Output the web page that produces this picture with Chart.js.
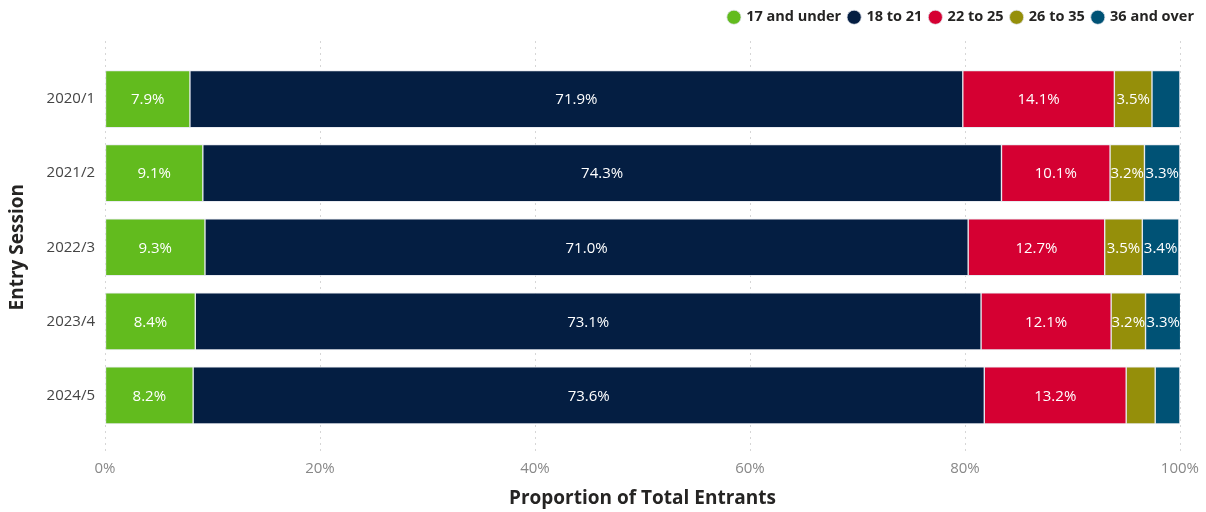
<!DOCTYPE html>
<html>
<head>
<meta charset="utf-8">
<script src="https://cdn.jsdelivr.net/npm/chart.js@4"></script>
<style>
  html, body { margin: 0; padding: 0; background: #fff; }
  #wrap { width: 1206px; height: 512px; }
</style>
</head>
<body>
<div id="wrap"><canvas id="myChart"></canvas></div>
<script>
const sessions = ["2020/1", "2021/2", "2022/3", "2023/4", "2024/5"];
const ageGroups = ["17 and under", "18 to 21", "22 to 25", "26 to 35", "36 and over"];
const under17 = [7.9, 9.1, 9.3, 8.4, 8.2];
const age18to21 = [71.9, 74.3, 71.0, 73.1, 73.6];
const age22to25 = [14.1, 10.1, 12.7, 12.1, 13.2];
const age26to35 = [3.5, 3.2, 3.5, 3.2, 2.7];
const over36 = [2.6, 3.3, 3.4, 3.3, 2.3];
const xTicks = [0, 20, 40, 60, 80, 100];

const colours = ["#62bb1e", "#041e42", "#d50032", "#958f0a", "#005275"];
const seriesValues = [under17, age18to21, age22to25, age26to35, over36];
const fontFamily = "'Segoe UI', 'Open Sans', 'Noto Sans', sans-serif";

// push the plot down below the legend
const legendGap = {
  id: "legendGap",
  beforeInit(chart) {
    const fit = chart.legend.fit;
    chart.legend.fit = function () {
      fit.bind(chart.legend)();
      this.height += 27.5;
    };
  },
};

// dotted vertical grid lines, a bit taller than the plot area
const dottedGrid = {
  id: "dottedGrid",
  beforeDatasetsDraw(chart) {
    const ctx = chart.ctx;
    const xScale = chart.scales.x;
    const area = chart.chartArea;
    ctx.save();
    ctx.strokeStyle = "#d6d6d6";
    ctx.lineWidth = 1;
    ctx.setLineDash([2, 4]);
    xTicks.forEach((t) => {
      const x = Math.round(xScale.getPixelForValue(t)) + 0.5;
      ctx.beginPath();
      ctx.moveTo(x, area.top - 21);
      ctx.lineTo(x, area.bottom + 20);
      ctx.stroke();
    });
    ctx.restore();
  },
};

// value labels in the middle of each segment, skipped when too narrow
const segmentLabels = {
  id: "segmentLabels",
  afterDatasetsDraw(chart) {
    const ctx = chart.ctx;
    ctx.save();
    ctx.font = "15px " + fontFamily;
    ctx.fillStyle = "#ffffff";
    ctx.textAlign = "center";
    ctx.textBaseline = "middle";
    chart.data.datasets.forEach((ds, i) => {
      chart.getDatasetMeta(i).data.forEach((bar, j) => {
        const v = ds.data[j];
        if (v < 3) return;
        const cx = (bar.x + bar.base) / 2;
        ctx.fillText(v.toFixed(1) + "%", cx, bar.y + 1);
      });
    });
    ctx.restore();
  },
};

const datasets = ageGroups.map((name, i) => ({
  label: name,
  data: seriesValues[i],
  backgroundColor: colours[i],
  borderColor: "rgba(225, 228, 236, 0.75)",
  borderWidth: 1,
  borderSkipped: false,
  barThickness: 57,
}));

new Chart(document.getElementById("myChart"), {
  type: "bar",
  data: { labels: sessions, datasets: datasets },
  plugins: [legendGap, dottedGrid, segmentLabels],
  options: {
    indexAxis: "y",
    responsive: true,
    maintainAspectRatio: false,
    animation: false,
    layout: { padding: { top: 2, right: 4, left: 0, bottom: 0 } },
    plugins: {
      tooltip: { enabled: false },
      legend: {
        position: "top",
        align: "end",
        labels: {
          usePointStyle: true,
          pointStyle: "circle",
          boxWidth: 10,
          boxHeight: 10,
          padding: 8,
          color: "#252423",
          font: { family: fontFamily, size: 14.5, weight: "bold" },
        },
      },
    },
    scales: {
      x: {
        stacked: true,
        min: 0,
        max: 100,
        grid: {
          display: true,
          drawOnChartArea: false,
          drawTicks: true,
          tickLength: 20,
          tickColor: "rgba(0,0,0,0)",
        },
        border: { display: false },
        afterBuildTicks(scale) {
          scale.ticks = xTicks.map((v) => ({ value: v }));
        },
        afterFit(scale) {
          scale.height = 79.5;
        },
        ticks: {
          padding: 7,
          maxRotation: 0,
          color: "#888888",
          font: { family: fontFamily, size: 15 },
          callback: (v) => v + "%",
        },
        title: {
          display: true,
          text: "Proportion of Total Entrants",
          color: "#252423",
          font: { family: fontFamily, size: 19, weight: "bold" },
          padding: { top: 9, bottom: 2 },
        },
      },
      y: {
        stacked: true,
        grid: { display: false },
        border: { display: false },
        afterFit(scale) {
          scale.width = 105;
        },
        ticks: {
          padding: 2,
          color: "#444444",
          font: { family: fontFamily, size: 15 },
        },
        title: {
          display: true,
          text: "Entry Session",
          color: "#252423",
          font: { family: fontFamily, size: 19, weight: "bold" },
          padding: { top: 6, bottom: 8 },
        },
      },
    },
  },
});
</script>
</body>
</html>
